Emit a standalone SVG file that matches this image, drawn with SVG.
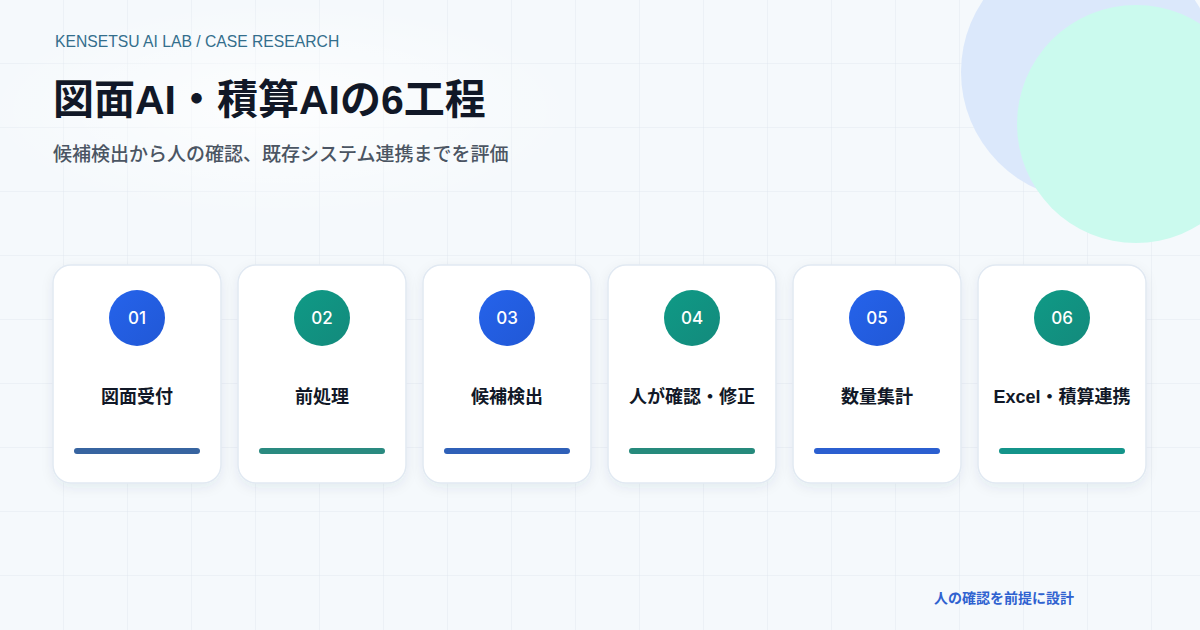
<svg xmlns="http://www.w3.org/2000/svg" width="1200" height="630" viewBox="0 0 1200 630">
  <defs>
    <pattern id="grid" width="64" height="64" patternUnits="userSpaceOnUse">
      <path d="M64 0V64M0 64H64" fill="none" stroke="#e2e9f0" stroke-width="1"/>
    </pattern>
    <radialGradient id="glow" cx="0.5" cy="0.5" r="0.5">
      <stop offset="0" stop-color="#ffffff" stop-opacity="0.75"/>
      <stop offset="1" stop-color="#ffffff" stop-opacity="0"/>
    </radialGradient>
    <linearGradient id="gBlue" x1="0" y1="0" x2="1" y2="1">
      <stop offset="0" stop-color="#2563eb"/>
      <stop offset="1" stop-color="#2158d6"/>
    </linearGradient>
    <linearGradient id="gGreen" x1="0" y1="0" x2="1" y2="1">
      <stop offset="0" stop-color="#0f9a86"/>
      <stop offset="1" stop-color="#138a7c"/>
    </linearGradient>
    <filter id="shadow" x="-20%" y="-20%" width="140%" height="140%">
      <feDropShadow dx="0" dy="4" stdDeviation="6" flood-color="#1e3a5f" flood-opacity="0.07"/>
    </filter>
    <style>
      .card { fill: #ffffff; stroke: #e1e9f2; stroke-width: 1.5; filter: url(#shadow); }
      .num { font-family: Inter, "Noto Sans", sans-serif; font-size: 17px; font-weight: 500; fill: #ffffff; text-anchor: middle; dominant-baseline: central; }
      .label { font-family: "Liberation Sans", "Noto Sans CJK JP", sans-serif; font-size: 18px; font-weight: 700; fill: #111827; text-anchor: middle; }
      .bar { stroke-width: 6; stroke-linecap: round; }
    </style>
  </defs>

  <rect width="1200" height="630" fill="#f5f9fc"/>
  <rect width="1200" height="630" fill="url(#grid)"/>
  <ellipse cx="280" cy="110" rx="300" ry="110" fill="url(#glow)"/>

  <circle cx="1089" cy="72" r="128" fill="#dbe8fb"/>
  <circle cx="1136" cy="124" r="119" fill="#cbfaee"/>

  <text x="55" y="47" font-family="'Liberation Sans', Arial, sans-serif" font-size="15.7" fill="#336e8c">KENSETSU AI LAB / CASE RESEARCH</text>
  <text x="53" y="114" font-family="'Liberation Sans', 'Noto Sans CJK JP', sans-serif" font-size="41" font-weight="700" fill="#111827">図面AI・積算AIの6工程</text>
  <text x="53" y="161" font-family="'Noto Sans CJK JP', sans-serif" font-size="19" font-weight="500" fill="#4b5563">候補検出から人の確認、既存システム連携までを評価</text>

  <g id="connectors"></g>

  <g id="node1">
    <rect class="card" x="53" y="265" width="168" height="218" rx="18"/>
    <circle cx="137" cy="318" r="28" fill="url(#gBlue)"/>
    <text class="num" x="137" y="318">01</text>
    <text class="label" x="137" y="403">図面受付</text>
    <line class="bar" x1="77" y1="451" x2="197" y2="451" stroke="#3764a0"/>
  </g>
  <g id="node2">
    <rect class="card" x="238" y="265" width="168" height="218" rx="18"/>
    <circle cx="322" cy="318" r="28" fill="url(#gGreen)"/>
    <text class="num" x="322" y="318">02</text>
    <text class="label" x="322" y="403">前処理</text>
    <line class="bar" x1="262" y1="451" x2="382" y2="451" stroke="#2a8a80"/>
  </g>
  <g id="node3">
    <rect class="card" x="423" y="265" width="168" height="218" rx="18"/>
    <circle cx="507" cy="318" r="28" fill="url(#gBlue)"/>
    <text class="num" x="507" y="318">03</text>
    <text class="label" x="507" y="403">候補検出</text>
    <line class="bar" x1="447" y1="451" x2="567" y2="451" stroke="#2f60b8"/>
  </g>
  <g id="node4">
    <rect class="card" x="608" y="265" width="168" height="218" rx="18"/>
    <circle cx="692" cy="318" r="28" fill="url(#gGreen)"/>
    <text class="num" x="692" y="318">04</text>
    <text class="label" x="692" y="403">人が確認・修正</text>
    <line class="bar" x1="632" y1="451" x2="752" y2="451" stroke="#268a7c"/>
  </g>
  <g id="node5">
    <rect class="card" x="793" y="265" width="168" height="218" rx="18"/>
    <circle cx="877" cy="318" r="28" fill="url(#gBlue)"/>
    <text class="num" x="877" y="318">05</text>
    <text class="label" x="877" y="403">数量集計</text>
    <line class="bar" x1="817" y1="451" x2="937" y2="451" stroke="#2b5fd0"/>
  </g>
  <g id="node6">
    <rect class="card" x="978" y="265" width="168" height="218" rx="18"/>
    <circle cx="1062" cy="318" r="28" fill="url(#gGreen)"/>
    <text class="num" x="1062" y="318">06</text>
    <text class="label" x="1062" y="403">Excel・積算連携</text>
    <line class="bar" x1="1002" y1="451" x2="1122" y2="451" stroke="#14948a"/>
  </g>

  <text x="1004" y="603" text-anchor="middle" font-family="'Noto Sans CJK JP', sans-serif" font-size="14" font-weight="700" fill="#2f62d0">人の確認を前提に設計</text>
</svg>
